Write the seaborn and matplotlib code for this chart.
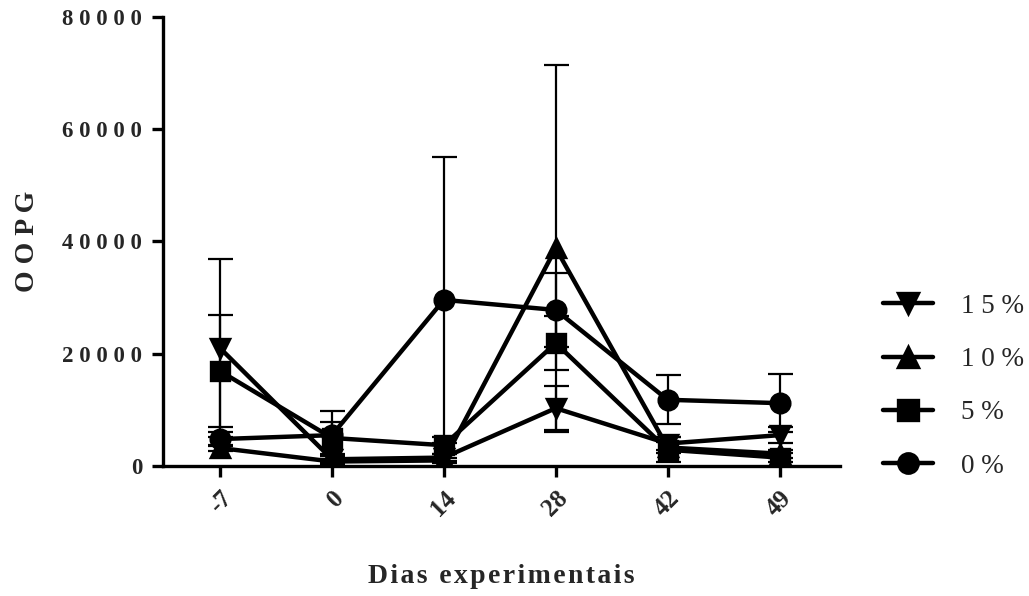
import pandas as pd
import matplotlib.pyplot as plt
import seaborn as sns

# ---- data (mean and SD of OOPG per day and group) ----
dias = ["-7", "0", "14", "28", "42", "49"]
grupos = ["15%", "10%", "5%", "0%"]

media_15 = [21000, 1200, 1500, 10300, 4000, 5500]
media_10 = [3200, 800, 1000, 38800, 3300, 2200]
media_5 = [16900, 5000, 3700, 21900, 2900, 1500]
media_0 = [4800, 5500, 29600, 27800, 11800, 11200]

dp_15 = [15900, 500, 600, 3900, 1200, 1400]
dp_10 = [600, 400, 500, 32700, 900, 700]
dp_5 = [10000, 2800, 1500, 4800, 2200, 800]
dp_0 = [1200, 4300, 25500, 6600, 4400, 5200]

y_ticks = [0, 20000, 40000, 60000, 80000]

medias = [media_15, media_10, media_5, media_0]
dps = [dp_15, dp_10, dp_5, dp_0]
marcadores = ["v", "^", "s", "o"]

# long form table for seaborn
linhas = []
for g, m in zip(grupos, medias):
    for d, v in zip(dias, m):
        linhas.append({"dia": d, "oopg": v, "grupo": g})
df = pd.DataFrame(linhas)

sns.set_style("ticks")
plt.rcParams['font.family'] = ['Liberation Serif', 'DejaVu Serif']

HS = "\u200a"  # hair space


def espaco(t, sep=" "):
    # the original has wide letter spacing
    return sep.join(t)


fig = plt.figure(figsize=(10.29, 5.96), dpi=100)
ax = fig.add_axes([0.1584, 0.2181, 0.6579, 0.7534])

# error bars first so they sit behind the markers
for m, s in zip(medias, dps):
    ax.errorbar(range(len(dias)), m, yerr=s, fmt="none", ecolor="black",
                elinewidth=1.6, capsize=9, capthick=1.6, zorder=1)

sns.pointplot(data=df, x="dia", y="oopg", hue="grupo", order=dias,
              hue_order=grupos, palette=["black"] * 4, markers=marcadores,
              linestyles="-", errorbar=None, dodge=False, ax=ax,
              markersize=13.5, linewidth=3.2)

for ln in ax.lines:
    ln.set_zorder(3)

ax.set_xlim(-0.51, 5.54)
ax.set_ylim(0, 80000)
ax.set_yticks(y_ticks)
ax.set_yticklabels([espaco(str(t)) for t in y_ticks], fontsize=16.5, fontweight="bold")
ax.set_xticks(range(len(dias)))
ax.set_xticklabels(dias, fontsize=18, fontweight="bold",
                   rotation=45, ha="right", rotation_mode="anchor")

ax.set_xlabel(espaco("Dias experimentais", HS), fontsize=20, fontweight="bold", labelpad=31)
ax.set_ylabel(espaco("OOPG"), fontsize=20, fontweight="bold", labelpad=16)

sns.despine(ax=ax)
for sp in ["left", "bottom"]:
    ax.spines[sp].set_linewidth(2.4)
    ax.spines[sp].set_color("black")
ax.tick_params(axis="both", length=8, width=2.4, color="black", pad=7)

handles, labels = ax.get_legend_handles_labels()
for h in handles:
    h.set_markersize(14)
leg = ax.legend(handles, [espaco(g) for g in grupos],
                loc="center left", bbox_to_anchor=(0.858, 0.352),
                bbox_transform=fig.transFigure, frameon=False, fontsize=19.5,
                handlelength=1.85, handletextpad=1.03, labelspacing=1.05,
                borderpad=0, borderaxespad=0)

fig.savefig("out.png", dpi=100)
